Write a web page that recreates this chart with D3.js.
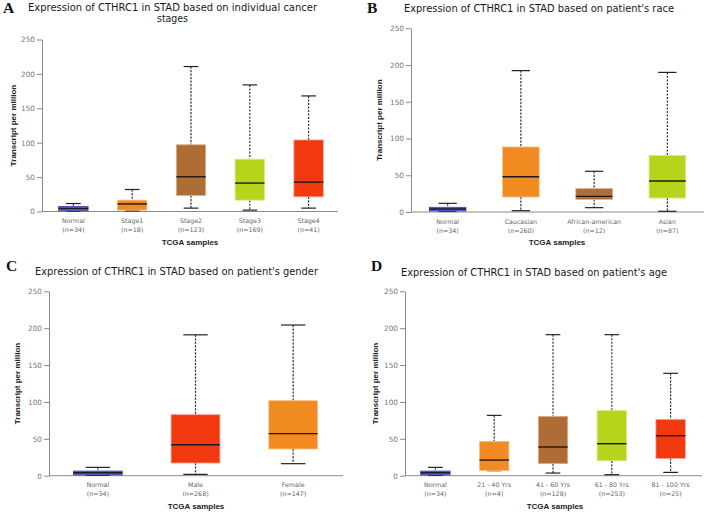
<!DOCTYPE html>
<html>
<head>
<meta charset="utf-8">
<script src="https://cdn.jsdelivr.net/npm/d3@7/dist/d3.min.js"></script>
<style>
  html, body { margin: 0; padding: 0; background: #fff; }
  svg { display: block; }
</style>
</head>
<body>
<svg id="chart" width="708" height="512"></svg>
<script>
// ---------------- DATA ----------------
const yTicks = [0, 50, 100, 150, 200, 250];

// Panel A: cancer stages
const stageCategories = ["Normal", "Stage1", "Stage2", "Stage3", "Stage4"];
const stageN = ["(n=34)", "(n=18)", "(n=123)", "(n=169)", "(n=41)"];
const stageLow = [0.5, 1, 4.9, 2, 4.9];
const stageQ1 = [1, 2, 23.3, 16.5, 21.4];
const stageMedian = [4.4, 11, 50.5, 41.3, 42.7];
const stageQ3 = [7.3, 16.5, 97, 76, 104];
const stageHigh = [11.6, 32, 210.7, 184, 168];

// Panel B: race
const raceCategories = ["Normal", "Caucasian", "African-american", "Asian"];
const raceN = ["(n=34)", "(n=260)", "(n=12)", "(n=87)"];
const raceLow = [1, 1.8, 5.9, 1];
const raceQ1 = [1.4, 20.4, 17.2, 19];
const raceMedian = [4, 48, 21.3, 42.2];
const raceQ3 = [6.4, 88.5, 31.8, 77];
const raceHigh = [11.8, 192.4, 55.4, 190];

// Panel C: gender
const genderCategories = ["Normal", "Male", "Female"];
const genderN = ["(n=34)", "(n=268)", "(n=147)"];
const genderLow = [0.5, 1.8, 16.3];
const genderQ1 = [1, 17.2, 36.2];
const genderMedian = [4, 42, 57];
const genderQ3 = [6.3, 82.7, 101.7];
const genderHigh = [11.3, 191, 204.3];

// Panel D: age
const ageCategories = ["Normal", "21 - 40 Yrs", "41 - 60 Yrs", "61 - 80 Yrs", "81 - 100 Yrs"];
const ageN = ["(n=34)", "(n=4)", "(n=128)", "(n=253)", "(n=25)"];
const ageLow = [0.5, 6.8, 3.6, 1.4, 4.5];
const ageQ1 = [1, 6.8, 16.3, 20.3, 23.5];
const ageMedian = [4, 21.2, 38.9, 43.4, 54.2];
const ageQ3 = [6.3, 46.6, 80.5, 88.2, 76.4];
const ageHigh = [11.3, 81.8, 191.2, 191.2, 138.8];

// ---------------- STYLE ----------------
const C = {
  blue:   {fill: "#5a66dc", stroke: "#3b43a8"},
  orange: {fill: "#f08a21", stroke: "#f6c08a"},
  brown:  {fill: "#b06c35", stroke: "#d6b293"},
  lime:   {fill: "#b4d51c", stroke: "#d8e98c"},
  red:    {fill: "#f2380f", stroke: "#f6a08c"}
};

const panels = [
  {
    letter: "A", letterX: 3, letterY: 13,
    title: ["Expression of CTHRC1 in STAD based on individual cancer", "stages"],
    titleX: 172.5, titleY: [10.8, 21.8], titleW: [289, 31],
    axisX: 42, range: [44, 338], y0: 211.5, yTop: 39.5, axisEnd: 338,
    ylabX: 13.5, xlabX: 190,
    cats: stageCategories, ns: stageN, lo: stageLow, q1: stageQ1, med: stageMedian, q3: stageQ3, hi: stageHigh,
    colors: [C.blue, C.orange, C.brown, C.lime, C.red]
  },
  {
    letter: "B", letterX: 367, letterY: 13,
    title: ["Expression of CTHRC1 in STAD based on patient's race"],
    titleX: 539, titleY: [12.3], titleW: [270],
    axisX: 411, range: [411, 704], y0: 212, yTop: 28.3, axisEnd: 704,
    ylabX: 379.5, xlabX: 557,
    cats: raceCategories, ns: raceN, lo: raceLow, q1: raceQ1, med: raceMedian, q3: raceQ3, hi: raceHigh,
    colors: [C.blue, C.orange, C.brown, C.lime]
  },
  {
    letter: "C", letterX: 6, letterY: 271,
    title: ["Expression of CTHRC1 in STAD based on patient's gender"],
    titleX: 176.5, titleY: [275.3], titleW: [283],
    axisX: 49, range: [49, 342], y0: 475.7, yTop: 291.3, axisEnd: 343,
    ylabX: 17.5, xlabX: 196,
    cats: genderCategories, ns: genderN, lo: genderLow, q1: genderQ1, med: genderMedian, q3: genderQ3, hi: genderHigh,
    colors: [C.blue, C.red, C.orange]
  },
  {
    letter: "D", letterX: 371, letterY: 271,
    title: ["Expression of CTHRC1 in STAD based on patient's age"],
    titleX: 534, titleY: [276], titleW: [266],
    axisX: 405, range: [406, 700], y0: 475.7, yTop: 291.3, axisEnd: 702,
    ylabX: 375, xlabX: 555,
    cats: ageCategories, ns: ageN, lo: ageLow, q1: ageQ1, med: ageMedian, q3: ageQ3, hi: ageHigh,
    colors: [C.blue, C.orange, C.brown, C.lime, C.red]
  }
];

const svg = d3.select("#chart");

panels.forEach(p => {
  const g = svg.append("g");

  // panel letter
  g.append("text")
    .attr("x", p.letterX).attr("y", p.letterY)
    .attr("font-family", "Liberation Serif, Times New Roman, serif")
    .attr("font-weight", "bold").attr("font-size", 15.5)
    .attr("fill", "#111").text(p.letter);

  // title
  p.title.forEach((t, i) => {
    g.append("text")
      .attr("x", p.titleX).attr("y", p.titleY[i])
      .attr("text-anchor", "middle")
      .attr("font-family", "DejaVu Sans, Verdana, sans-serif")
      .attr("font-size", 9.6)
      .attr("textLength", p.titleW[i]).attr("lengthAdjust", "spacingAndGlyphs")
      .attr("fill", "#1a1a1a").text(t);
  });

  const y = d3.scaleLinear().domain([0, 250]).range([p.y0, p.yTop]);
  const x = d3.scaleBand().domain(p.cats).range(p.range).padding(0);
  const bw = x.bandwidth() * 0.5;
  const cw = bw * 0.5;

  // y axis
  const yAxis = d3.axisLeft(y).tickValues(yTicks).tickSize(5).tickPadding(2).tickSizeOuter(0);
  const ya = g.append("g").attr("transform", `translate(${p.axisX},0)`).call(yAxis);
  ya.select(".domain").attr("stroke", "#8a8a8a");
  ya.selectAll(".tick line").attr("stroke", "#8a8a8a");
  ya.selectAll(".tick text")
    .attr("font-family", "DejaVu Sans, Verdana, sans-serif")
    .attr("font-size", 7.3).attr("fill", "#777");

  // x axis baseline
  g.append("line")
    .attr("x1", p.axisX).attr("x2", p.axisEnd)
    .attr("y1", p.y0).attr("y2", p.y0)
    .attr("stroke", "#8a8a8a").attr("stroke-width", 1);

  // boxes
  p.cats.forEach((c, i) => {
    const cx = x(c) + x.bandwidth() / 2;
    const col = p.colors[i];
    // whiskers (dashed)
    g.append("line")
      .attr("x1", cx).attr("x2", cx)
      .attr("y1", y(p.hi[i])).attr("y2", y(p.q3[i]))
      .attr("stroke", "#333").attr("stroke-width", 1.2)
      .attr("stroke-dasharray", "2.2,1.3");
    g.append("line")
      .attr("x1", cx).attr("x2", cx)
      .attr("y1", y(p.q1[i])).attr("y2", y(p.lo[i]))
      .attr("stroke", "#333").attr("stroke-width", 1.2)
      .attr("stroke-dasharray", "2.2,1.3");
    // caps
    [p.hi[i], p.lo[i]].forEach(v => {
      g.append("line")
        .attr("x1", cx - cw / 2).attr("x2", cx + cw / 2)
        .attr("y1", y(v)).attr("y2", y(v))
        .attr("stroke", "#222").attr("stroke-width", 1.2);
    });
    // box
    g.append("rect")
      .attr("x", cx - bw / 2).attr("width", bw)
      .attr("y", y(p.q3[i])).attr("height", y(p.q1[i]) - y(p.q3[i]))
      .attr("fill", col.fill).attr("stroke", col.stroke).attr("stroke-width", 0.8);
    // median
    g.append("line")
      .attr("x1", cx - bw / 2).attr("x2", cx + bw / 2)
      .attr("y1", y(p.med[i])).attr("y2", y(p.med[i]))
      .attr("stroke", "#1a1a1a").attr("stroke-width", 1.4);

    // x labels
    g.append("text")
      .attr("x", cx).attr("y", p.y0 + 11.5)
      .attr("text-anchor", "middle")
      .attr("font-family", "DejaVu Sans, Verdana, sans-serif")
      .attr("font-size", 6.3).attr("fill", "#666").text(c);
    g.append("text")
      .attr("x", cx).attr("y", p.y0 + 20.5)
      .attr("text-anchor", "middle")
      .attr("font-family", "DejaVu Sans, Verdana, sans-serif")
      .attr("font-size", 6.3).attr("fill", "#666").text(p.ns[i]);
  });

  // axis titles
  g.append("text")
    .attr("transform", `translate(${p.ylabX},${(p.y0 + p.yTop) / 2}) rotate(-90)`)
    .attr("text-anchor", "middle").attr("dominant-baseline", "central")
    .attr("font-family", "Liberation Sans, Arial, sans-serif")
    .attr("font-weight", "bold").attr("font-size", 8)
    .attr("fill", "#222").text("Transcript per million");

  g.append("text")
    .attr("x", p.xlabX).attr("y", p.y0 + 33)
    .attr("text-anchor", "middle")
    .attr("font-family", "Liberation Sans, Arial, sans-serif")
    .attr("font-weight", "bold").attr("font-size", 8)
    .attr("fill", "#222").text("TCGA samples");
});
</script>
</body>
</html>
